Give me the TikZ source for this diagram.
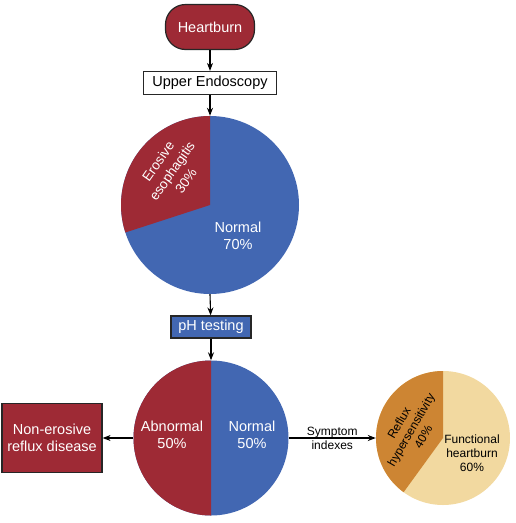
\documentclass[tikz,border=0pt]{standalone}
\usepackage{fontspec}
\setmainfont{Liberation Sans}
\usetikzlibrary{arrows.meta}
\definecolor{maroon}{HTML}{9E2A35}
\definecolor{steel}{HTML}{4267B2}
\definecolor{amber}{HTML}{CD8533}
\definecolor{sand}{HTML}{F2D9A0}

\begin{document}
\begin{tikzpicture}[x=1pt,y=1pt,
    arj/.style={line width=1.1pt,-{Stealth[length=8pt,width=6pt]}},
    big/.style={font=\fontsize{14.5}{17.5}\selectfont,align=center},
    small/.style={font=\fontsize{12}{14}\selectfont,align=center},
    box/.style={draw=black!85,line width=1.2pt,inner sep=0pt,big}]
\useasboundingbox (0,0) rectangle (515,-523);

\node[box,fill=maroon,text=white,rounded corners=20pt,minimum width=89,minimum height=45] (hb) at (210,-27) {Heartburn};
\node[box,fill=white,minimum width=133,minimum height=23] (ue) at (210,-83) {Upper Endoscopy};
\node[circle,inner sep=0pt,minimum size=178] (p1) at (210,-205) {};
\node[box,fill=steel,text=white,minimum width=80,minimum height=22] (ph) at (211,-327) {pH testing};
\node[circle,inner sep=0pt,minimum size=155] (p2) at (211,-438) {};
\node[box,fill=maroon,text=white,minimum width=100,minimum height=69] (ne) at (52,-438) {Non-erosive\\reflux disease};
\node[circle,inner sep=0pt,minimum size=134] (p3) at (443,-438) {};

% pies
\fill[steel] (p1.center) circle[radius=89];
\fill[maroon] (p1.center) -- ++(90:89) arc[start angle=90,end angle=198,radius=89] -- cycle;
\fill[steel] (p2.center) circle[radius=77.5];
\fill[maroon] (p2.center) -- ++(90:77.5) arc[start angle=90,end angle=270,radius=77.5] -- cycle;
\fill[sand] (p3.center) circle[radius=67];
\fill[amber] (p3.center) -- ++(90:67) arc[start angle=90,end angle=234,radius=67] -- cycle;

\node[font=\fontsize{13.5}{17}\selectfont,align=center,text=white,rotate=55] (ee) at (172,-171) {Erosive\\esophagitis\\30\%};
\node[big,text=white] (n1) at (238,-236) {Normal\\70\%};
\node[big,text=white] (ab) at (172,-435) {Abnormal\\50\%};
\node[big,text=white] (n2) at (252,-435) {Normal\\50\%};
\node[small,rotate=60] (rh) at (411,-430) {Reflux\\hypersensitivity\\40\%};
\node[small] (fh) at (472,-453) {Functional\\heartburn\\60\%};

\draw[arj] (hb) -- (ue);
\draw[arj] (ue) -- (p1.north);
\draw[arj] (p1.south) -- (ph);
\draw[arj] (ph) -- (p2.north);
\draw[arj] (p2.west) -- (ne);
\draw[arj] (p2.east) -- node[small]{Symptom\\indexes} (p3.west);
\end{tikzpicture}
\end{document}
